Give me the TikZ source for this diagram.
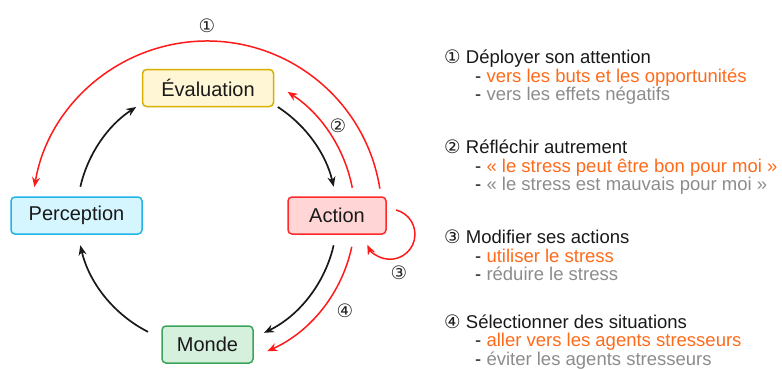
\documentclass[tikz,border=0pt]{standalone}
\usepackage{fontspec}
\setmainfont{Liberation Sans}
\newfontfamily\dvfont{DejaVu Sans}
\usetikzlibrary{arrows.meta,calc}
\definecolor{orng}{HTML}{FF6A1A}
\definecolor{gry}{HTML}{8C8C8C}
\definecolor{evfill}{HTML}{FFF6D5}
\definecolor{evdraw}{HTML}{D9B000}
\definecolor{pefill}{HTML}{D5F6FF}
\definecolor{pedraw}{HTML}{22B4E4}
\definecolor{acfill}{HTML}{FFD5D5}
\definecolor{acdraw}{HTML}{FF2A2A}
\definecolor{mofill}{HTML}{D5F0DC}
\definecolor{modraw}{HTML}{3AA55A}
\definecolor{redarr}{HTML}{FF1A1A}
\begin{document}
\begin{tikzpicture}[x=1pt,y=1pt,
  box/.style={draw, line width=1.5pt, rounded corners=4pt, minimum height=37pt, inner sep=0pt, text=black!90, font=\fontsize{20}{24}\selectfont},
  blk/.style={black!90, line width=1.7pt, -{Stealth[length=10pt,width=8pt]}},
  rd/.style={redarr, line width=1.5pt, -{Stealth[length=10pt,width=8pt]}},
  num/.style={inner sep=0pt, text=black!85, font=\dvfont\fontsize{18.5}{22}\selectfont},
  txt/.style={anchor=base west, inner sep=0pt, text=black!90, font=\fontsize{18.5}{22}\selectfont}]
\useasboundingbox (0,0) rectangle (782,368);
% nodes
\node[box, fill=evfill, draw=evdraw, minimum width=131pt] (ev) at (208,280) {Évaluation};
\node[box, fill=pefill, draw=pedraw, minimum width=131pt] (pe) at (76.5,152.5) {Perception};
\node[box, fill=acfill, draw=acdraw, minimum width=98pt] (ac) at (337,152.5) {Action};
\node[box, fill=mofill, draw=modraw, minimum width=91pt] (mo) at (207.5,23.5) {Monde};
\coordinate (C) at (207,152);
% black cycle
\coordinate (pe1) at ($(C)+(167:130)$);
\coordinate (ev1) at ($(C)+(57:130)$);
\coordinate (ac1) at ($(C)+(-13:130)$);
\coordinate (mo1) at ($(C)+(-117:130)$);
\draw[blk] (pe1) arc[start angle=167, end angle=123, radius=130];
\draw[blk] (ev1) arc[start angle=57, end angle=13, radius=130];
\draw[blk] (ac1) arc[start angle=-13, end angle=-64, radius=130];
\draw[blk] (mo1) arc[start angle=-117, end angle=-167, radius=130];
% red arrows
\coordinate (r1) at ($(C)+(9:175)$);
\coordinate (r2) at ($(C)+(11:148)$);
\coordinate (r4) at ($(C)+(-12:148)$);
\draw[rd] (r1) arc[start angle=9, end angle=170.5, radius=175];
\draw[rd] (r2) arc[start angle=11, end angle=57, radius=148];
\draw[rd] (r4) arc[start angle=-12, end angle=-66, radius=148];
\coordinate (r3) at (396,158);
\draw[rd] (r3) arc[start angle=76, end angle=-155, radius=25];
% numbers
\node[num] (n1) at (207,342) {①};
\node[num] (n2) at (338,242) {②};
\node[num] (n3) at (399,95) {③};
\node[num] (n4) at (345,57) {④};
% legend
\node[txt] (h1) at (444,305) {{\dvfont ①} Déployer son attention};
\node[txt] (a1) at (475,286) {- \textcolor{orng}{vers les buts et les opportunités}};
\node[txt] (b1) at (475,268) {- \textcolor{gry}{vers les effets négatifs}};
\node[txt] (h2) at (444,215) {{\dvfont ②} Réfléchir autrement};
\node[txt] (a2) at (475,196) {- \textcolor{orng}{« le stress peut être bon pour moi »}};
\node[txt] (b2) at (475,178) {- \textcolor{gry}{« le stress est mauvais pour moi »}};
\node[txt] (h3) at (444,125) {{\dvfont ③} Modifier ses actions};
\node[txt] (a3) at (475,106) {- \textcolor{orng}{utiliser le stress}};
\node[txt] (b3) at (475,88) {- \textcolor{gry}{réduire le stress}};
\node[txt] (h4) at (444,40) {{\dvfont ④} Sélectionner des situations};
\node[txt] (a4) at (475,22) {- \textcolor{orng}{aller vers les agents stresseurs}};
\node[txt] (b4) at (475,3) {- \textcolor{gry}{éviter les agents stresseurs}};
\end{tikzpicture}
\end{document}
